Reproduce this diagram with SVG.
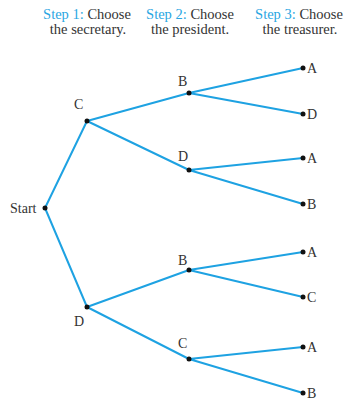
<svg xmlns="http://www.w3.org/2000/svg" width="347" height="400" viewBox="0 0 347 400">
<style>
.e{stroke:#1ea2e2;stroke-width:2;fill:none}
.d{fill:#111}
.t{font-family:"Liberation Serif",serif;font-size:14px;fill:#333}
.h{font-family:"Liberation Serif",serif;font-size:14.5px;fill:#333;text-anchor:middle}
.b{fill:#2aa6e2}
</style>
<rect width="347" height="400" fill="#fff"/>
<g id="header">
<text class="h" x="87" y="19"><tspan class="b">Step 1:</tspan> Choose</text>
<text class="h" x="88" y="34">the secretary.</text>
<text class="h" x="190" y="19"><tspan class="b">Step 2:</tspan> Choose</text>
<text class="h" x="190" y="34">the president.</text>
<text class="h" x="299" y="19"><tspan class="b">Step 3:</tspan> Choose</text>
<text class="h" x="300" y="34">the treasurer.</text>
</g>
<g id="connectors">
<path class="e" d="M45,208 L87,121 M45,208 L87,307"/>
<path class="e" d="M87,121 L189,93 M87,121 L189,170 M87,307 L189,270 M87,307 L189,359"/>
<path class="e" d="M189,93 L303,68 M189,93 L303,114 M189,170 L303,158 M189,170 L303,204"/>
<path class="e" d="M189,270 L303,252 M189,270 L303,297 M189,359 L303,347 M189,359 L303,393"/>
</g>
<g id="start"><circle class="d" cx="45" cy="208" r="2.5"/><text class="t" x="10" y="213">Start</text></g>
<g id="c1"><circle class="d" cx="87" cy="121" r="2.5"/><text class="t" x="74" y="109">C</text></g>
<g id="d1"><circle class="d" cx="87" cy="307" r="2.5"/><text class="t" x="74" y="326">D</text></g>
<g id="b2"><circle class="d" cx="189" cy="93" r="2.5"/><text class="t" x="178" y="86">B</text></g>
<g id="d2"><circle class="d" cx="189" cy="170" r="2.5"/><text class="t" x="178" y="161">D</text></g>
<g id="b3"><circle class="d" cx="189" cy="270" r="2.5"/><text class="t" x="178" y="265">B</text></g>
<g id="c3"><circle class="d" cx="189" cy="359" r="2.5"/><text class="t" x="178" y="348">C</text></g>
<g id="l1"><circle class="d" cx="303" cy="68" r="2.5"/><text class="t" x="307" y="73">A</text></g>
<g id="l2"><circle class="d" cx="303" cy="114" r="2.5"/><text class="t" x="307" y="119">D</text></g>
<g id="l3"><circle class="d" cx="303" cy="158" r="2.5"/><text class="t" x="307" y="163">A</text></g>
<g id="l4"><circle class="d" cx="303" cy="204" r="2.5"/><text class="t" x="307" y="209">B</text></g>
<g id="l5"><circle class="d" cx="303" cy="252" r="2.5"/><text class="t" x="307" y="257">A</text></g>
<g id="l6"><circle class="d" cx="303" cy="297" r="2.5"/><text class="t" x="307" y="302">C</text></g>
<g id="l7"><circle class="d" cx="303" cy="347" r="2.5"/><text class="t" x="307" y="352">A</text></g>
<g id="l8"><circle class="d" cx="303" cy="393" r="2.5"/><text class="t" x="307" y="398">B</text></g>
</svg>
